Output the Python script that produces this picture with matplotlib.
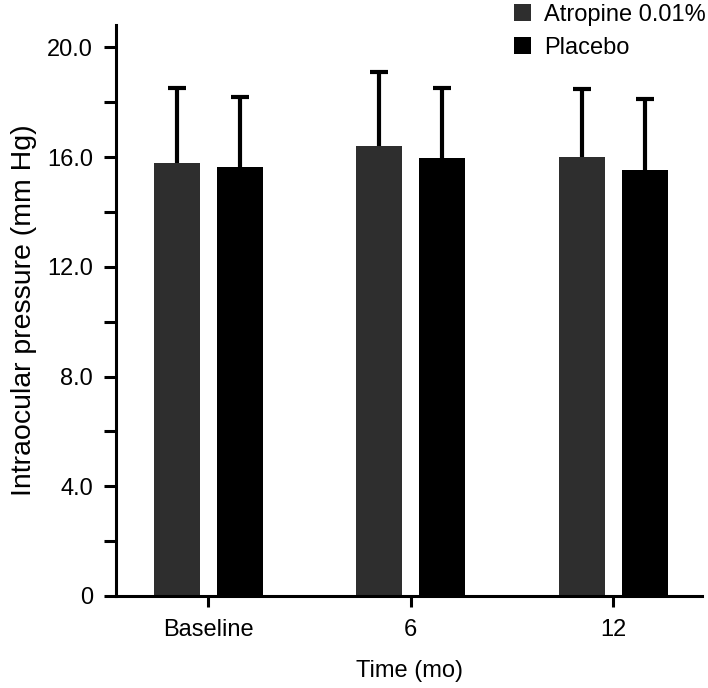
import numpy as np
import matplotlib
matplotlib.use("Agg")
import matplotlib.pyplot as plt
from matplotlib.patches import Patch

plt.rcParams['font.family'] = ['Liberation Sans', 'DejaVu Sans']

categories = ["Baseline", "6", "12"]
series_names = ["Atropine 0.01%", "Placebo"]
atropine_mean = [15.78, 16.42, 16.02]
atropine_sd = [2.76, 2.70, 2.47]
placebo_mean = [15.66, 15.96, 15.54]
placebo_sd = [2.55, 2.55, 2.59]
colors = ["#2e2e2e", "#000000"]

ytick_vals = [0, 2, 4, 6, 8, 10, 12, 14, 16, 18, 20]
ytick_labels = ["0", "", "4.0", "", "8.0", "", "12.0", "", "16.0", "", "20.0"]

fig = plt.figure(figsize=(7.08, 6.88), dpi=100)
ax = fig.add_axes([116/708, 1 - 596/688, (702-116)/708, (596-25)/688])

x = np.arange(len(categories))
offset = 0.156
width = 0.227
for k, (means, sds) in enumerate([(atropine_mean, atropine_sd), (placebo_mean, placebo_sd)]):
    pos = x + (-offset if k == 0 else offset)
    ax.bar(pos, means, width=width, color=colors[k], linewidth=0, zorder=2)
    means_a = np.array(means)
    eb = ax.errorbar(pos, means_a, yerr=[np.zeros(len(means)), sds], fmt='none',
                     ecolor='black', elinewidth=3.0, capsize=6.8, capthick=3.0, zorder=3)
    for cl in eb[1]:
        if np.allclose(cl.get_ydata(), means_a):
            cl.set_visible(False)

ax.set_xlim(-0.456, 2.438)
ax.set_ylim(0, 20.82)
ax.set_xticks(x)
ax.set_xticklabels(categories)
ax.set_yticks(ytick_vals)
ax.set_yticklabels(ytick_labels)

for s in ['top', 'right']:
    ax.spines[s].set_visible(False)
for s in ['left', 'bottom']:
    ax.spines[s].set_linewidth(2.2)

ax.tick_params(axis='y', length=8.6, width=2.2, pad=8.0, labelsize=17)
ax.tick_params(axis='x', length=8, width=2.2, pad=8.5, labelsize=17)

ax.set_ylabel("Intraocular pressure (mm Hg)", fontsize=20.5, labelpad=7)
ax.set_xlabel("Time (mo)", fontsize=17, labelpad=14)

handles = [Patch(facecolor=colors[0], edgecolor='none'), Patch(facecolor=colors[1], edgecolor='none')]
fig.legend(handles, series_names, loc='upper left', bbox_to_anchor=(514/708, 1 - 4/688),
           frameon=False, fontsize=17, handlelength=0.72, handleheight=0.72,
           handletextpad=0.55, labelspacing=0.45, borderpad=0, borderaxespad=0)

fig.savefig("out.png", dpi=100)
